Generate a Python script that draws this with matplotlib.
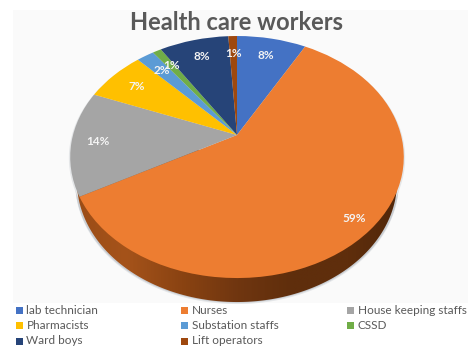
import numpy as np
import matplotlib
matplotlib.use("Agg")
import matplotlib.pyplot as plt
from matplotlib.colors import LinearSegmentedColormap
from matplotlib.patches import Rectangle, Polygon
from matplotlib.transforms import Transform

categories = ["lab technician", "Nurses", "House keeping staffs", "Pharmacists",
              "Substation staffs", "CSSD", "Ward boys", "Lift operators"]
values = [8, 59, 14, 7, 2, 1, 8, 1]
colors = ["#4472C4", "#ED7D31", "#A5A5A5", "#FFC000",
          "#5B9BD5", "#70AD47", "#264478", "#9E480E"]
title = "Health care workers"

W, H = 468, 346
# pixel position of the pie hub and tilt of the projected disc
HUB_X, HUB_Y = 237, H - 135
RX, RY, TILT = 164, 117, 0.182
DEPTH = 24


class TiltTransform(Transform):
    """Projects the flat unit pie onto a tilted disc, in pixel coordinates."""
    input_dims = output_dims = 2

    def __init__(self, drop=0, shrink=1.0):
        super().__init__()
        self.drop = drop
        self.shrink = shrink

    def transform_non_affine(self, xy):
        xy = np.asarray(xy, dtype=float)
        d = 1 + TILT * xy[:, 1]
        return np.column_stack([HUB_X + self.shrink * RX * xy[:, 0] / d,
                                HUB_Y + RY * xy[:, 1] / d - self.drop])


def disc_outline(trans):
    theta = np.linspace(0, 2 * np.pi, 400)
    return trans.transform_non_affine(np.column_stack([np.cos(theta), np.sin(theta)]))


plt.rcParams["font.family"] = ["Lato", "DejaVu Sans"]
fig = plt.figure(figsize=(W / 100, H / 100), dpi=100)
ax = fig.add_axes([0, 0, 1, 1])

# top face
top = TiltTransform()
faces, _, pct = ax.pie(values, colors=colors, startangle=90, counterclock=False,
                       autopct=lambda p: f"{p:.0f}%", pctdistance=0.8, radius=1,
                       textprops=dict(color="#F4F4F4", fontsize=8.5, fontweight="bold"))
# labels pushed out a little on the big slices
pushes = [1.0, 1.12, 1.05, 1.0, 1.0, 1.0, 1.0, 1.0]
for w in faces:
    w.set_transform(top)
    w.set_zorder(5)
for t, k in zip(pct, pushes):
    x, y = t.get_position()
    t.set_position((x * k, y * k))
    t.set_transform(top)
    t.set_zorder(6)

ax.set_aspect("auto")
ax.set_xlim(0, W)
ax.set_ylim(0, H)
ax.axis("off")

# light plot panel behind the pie
ax.add_patch(Rectangle((13, H - 303), W - 13, 293, fc="#FAFAFA", ec="none", zorder=0))

# soft shadow under the disc
for drop, tone in [(DEPTH + 2, "#E4E6E8"), (DEPTH + 0.8, "#C9CDD2")]:
    ax.add_patch(Polygon(disc_outline(TiltTransform(drop, 0.97)), fc=tone, ec="none", zorder=1))
ax.add_patch(Polygon(disc_outline(TiltTransform(1, 1.008)), fc="#E4E6E8", ec="none", zorder=1))

# side wall, shaded left to right and clipped to the lowered disc
rim = LinearSegmentedColormap.from_list(
    "rim", ["#9A4C16", "#A5531A", "#8A4312", "#703610", "#5F2E0C", "#5F2E0C", "#4F260A"])
wall = Polygon(disc_outline(TiltTransform(DEPTH, 0.96)), fc="none", ec="none", zorder=2)
ax.add_patch(wall)
shade = ax.imshow(np.linspace(0, 1, 256).reshape(1, -1), cmap=rim,
                  extent=(HUB_X - RX * 1.02, HUB_X + RX * 1.02, H - 310, H - 150),
                  aspect="auto", zorder=3)
shade.set_clip_path(wall)
ax.set_xlim(0, W)
ax.set_ylim(0, H)

ax.text(237, H - 22, title, ha="center", va="center", fontsize=17,
        fontweight="bold", color="#595959", zorder=7)

# legend reads row by row on a fixed three column grid
col_x = [16, 181, 347]
row_y = [310, 325.5, 341]
for i, (name, c) in enumerate(zip(categories, colors)):
    x = col_x[i % 3]
    y = H - row_y[i // 3]
    ax.add_patch(Rectangle((x, y - 3.5), 7, 7, fc=c, ec="none", zorder=7))
    ax.text(x + 10.5, y, name, ha="left", va="center", fontsize=8.5, color="#595959", zorder=7)

fig.savefig("out.png", dpi=100)
